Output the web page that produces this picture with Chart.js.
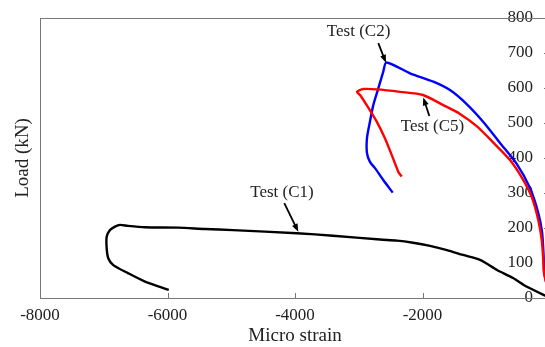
<!DOCTYPE html>
<html>
<head>
<meta charset="utf-8">
<script src="https://cdn.jsdelivr.net/npm/chart.js@4.4.1/dist/chart.umd.min.js"></script>
<style>
  html, body { margin: 0; padding: 0; overflow: hidden; background: #fff; }
</style>
</head>
<body>
<canvas id="myChart" width="560" height="347"></canvas>
<script>
// axis ticks
const xTicks = [-8000, -6000, -4000, -2000, 0];
const yTicks = [0, 100, 200, 300, 400, 500, 600, 700, 800];

// Test (C1) - black
const c1Strain = [0, -361, -580, -831, -1098, -1365, -1616, -1882, -2149, -2400, -2667, -3404, -3969, -4973, -5412, -5835, -6353, -6620, -6745, -6824, -6902, -6954, -6954, -6928, -6850, -6620, -6353, -5980];
const c1Load = [0, 32, 57, 80, 109, 123, 137, 149, 158, 164, 167, 178, 185, 194, 197, 201, 202, 206, 209, 204, 194, 175, 142, 113, 94, 71, 47, 23];

// Test (C2) - blue
const c2Strain = [0, -88, -100, -125, -184, -314, -522, -784, -1046, -1307, -1569, -1830, -2196, -2565, -2615, -2693, -2772, -2824, -2871, -2871, -2824, -2745, -2615, -2467];
const c2Load = [0, 70, 120, 189, 243, 314, 383, 443, 503, 554, 594, 618, 642, 673, 647, 599, 551, 504, 457, 414, 389, 371, 337, 301];

// Test (C5) - red
const c5Strain = [0, -94, -105, -130, -184, -287, -419, -627, -889, -1150, -1412, -1674, -1992, -2353, -2714, -2929, -3027, -2980, -2875, -2718, -2588, -2483, -2380, -2326];
const c5Load = [0, 71, 109, 166, 223, 289, 337, 394, 444, 491, 526, 551, 580, 589, 596, 597, 589, 580, 551, 504, 456, 409, 361, 347];

// labels with arrows (in data units)
const noteText = ['Test (C1)', 'Test (C2)', 'Test (C5)'];
const noteStrain = [-4204, -3003, -1843];
const noteLoad = [301, 760, 489];
const arrowStartStrain = [-4168, -2693, -1893];
const arrowStartLoad = [271, 728, 520];
const arrowEndStrain = [-3948, -2573, -1988];
const arrowEndLoad = [189, 672, 573];

const serif = 'Liberation Serif';
const textColor = '#222';
const frameColor = '#777';

const toPoints = (xs, ys) => xs.map((v, i) => ({ x: v, y: ys[i] }));

const frameAndTicks = {
  id: 'frameAndTicks',
  beforeDatasetsDraw(chart) {
    const { ctx, chartArea: a, scales: { x, y } } = chart;
    ctx.save();
    ctx.strokeStyle = frameColor;
    ctx.lineWidth = 1;
    ctx.strokeRect(a.left + 0.5, a.top + 0.5, a.right - a.left, a.bottom - a.top);
    ctx.beginPath();
    x.ticks.forEach(t => {
      const px = Math.round(x.getPixelForValue(t.value)) + 0.5;
      ctx.moveTo(px, a.bottom);
      ctx.lineTo(px, a.bottom - 5);
    });
    y.ticks.forEach(t => {
      const py = Math.round(y.getPixelForValue(t.value)) + 0.5;
      ctx.moveTo(a.right, py);
      ctx.lineTo(a.right - 6, py);
    });
    ctx.stroke();
    ctx.restore();
  }
};

const notes = {
  id: 'notes',
  afterDatasetsDraw(chart) {
    const { ctx, scales: { x, y } } = chart;
    ctx.save();
    ctx.font = '17px "' + serif + '"';
    ctx.fillStyle = textColor;
    ctx.textAlign = 'center';
    ctx.textBaseline = 'middle';
    noteText.forEach((txt, i) => {
      ctx.fillText(txt, x.getPixelForValue(noteStrain[i]), y.getPixelForValue(noteLoad[i]));
      const x0 = x.getPixelForValue(arrowStartStrain[i]);
      const y0 = y.getPixelForValue(arrowStartLoad[i]);
      const x1 = x.getPixelForValue(arrowEndStrain[i]);
      const y1 = y.getPixelForValue(arrowEndLoad[i]);
      const ang = Math.atan2(y1 - y0, x1 - x0);
      ctx.strokeStyle = '#000';
      ctx.fillStyle = '#000';
      ctx.lineWidth = 1.8;
      ctx.beginPath();
      ctx.moveTo(x0, y0);
      ctx.lineTo(x1 - 5 * Math.cos(ang), y1 - 5 * Math.sin(ang));
      ctx.stroke();
      ctx.beginPath();
      ctx.moveTo(x1, y1);
      ctx.lineTo(x1 - 8 * Math.cos(ang) + 3 * Math.sin(ang), y1 - 8 * Math.sin(ang) - 3 * Math.cos(ang));
      ctx.lineTo(x1 - 8 * Math.cos(ang) - 3 * Math.sin(ang), y1 - 8 * Math.sin(ang) + 3 * Math.cos(ang));
      ctx.closePath();
      ctx.fill();
      ctx.fillStyle = textColor;
    });
    ctx.restore();
  }
};

const lineStyle = { showLine: true, pointRadius: 0, borderWidth: 2.4, tension: 0.25, fill: false };

const ctx = document.getElementById('myChart').getContext('2d');
const chart = new Chart(ctx, {
  type: 'scatter',
  data: {
    datasets: [
      { label: 'Test (C5)', data: toPoints(c5Strain, c5Load), borderColor: '#ff0000', ...lineStyle },
      { label: 'Test (C2)', data: toPoints(c2Strain, c2Load), borderColor: '#0000ff', ...lineStyle },
      { label: 'Test (C1)', data: toPoints(c1Strain, c1Load), borderColor: '#000000', ...lineStyle }
    ]
  },
  options: {
    responsive: false,
    animation: false,
    layout: { padding: { top: 18, left: 0, right: 0, bottom: 0 } },
    plugins: {
      legend: { display: false },
      tooltip: { enabled: false }
    },
    scales: {
      x: {
        type: 'linear',
        position: 'bottom',
        min: -8000,
        max: 0,
        afterBuildTicks: s => { s.ticks = xTicks.map(v => ({ value: v })); },
        afterFit: s => { s.height = 49; },
        grid: { display: false, drawTicks: false },
        border: { display: false },
        ticks: {
          padding: 7,
          color: textColor,
          font: { family: serif, size: 17 },
          callback: v => (v === 0 ? '' : String(v))
        },
        title: {
          display: true,
          text: 'Micro strain',
          color: textColor,
          font: { family: serif, size: 19 },
          padding: { top: 0, bottom: 0 }
        }
      },
      y: {
        type: 'linear',
        position: 'right',
        min: 0,
        max: 800,
        afterBuildTicks: s => { s.ticks = yTicks.map(v => ({ value: v })); },
        afterFit: s => { s.width = 10; },
        grid: { display: false, drawTicks: false },
        border: { display: false },
        ticks: {
          mirror: true,
          padding: -17,
          color: textColor,
          font: { family: serif, size: 17 },
          callback: v => String(v)
        }
      },
      yTitle: {
        type: 'linear',
        position: 'left',
        afterFit: s => { s.width = 40; },
        grid: { display: false, drawTicks: false },
        border: { display: false },
        ticks: { display: false },
        title: {
          display: true,
          text: 'Load (kN)',
          color: textColor,
          font: { family: serif, size: 19 },
          padding: { top: 12, bottom: 0 }
        }
      }
    }
  },
  plugins: [frameAndTicks, notes]
});
</script>
</body>
</html>
